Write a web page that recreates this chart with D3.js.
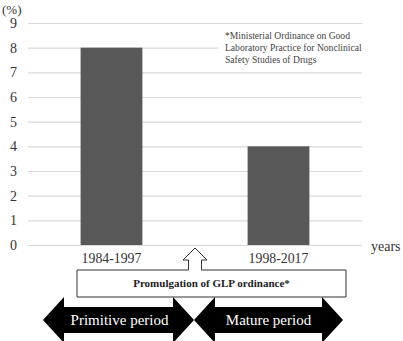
<!DOCTYPE html>
<html>
<head>
<meta charset="utf-8">
<script src="https://cdn.jsdelivr.net/npm/d3@7"></script>
<style>
  body { margin: 0; background: #fff; }
  text { font-family: "Liberation Serif", "Times New Roman", serif; }
</style>
</head>
<body>
<script>
const categories = ["1984-1997", "1998-2017"];
const values = [8, 4];
const yTicks = [0, 1, 2, 3, 4, 5, 6, 7, 8, 9];
const periods = ["Primitive period", "Mature period"];
const footnote = [
  "*Ministerial Ordinance on Good",
  "Laboratory Practice for Nonclinical",
  "Safety Studies of Drugs"
];

const width = 403, height = 341;
const svg = d3.select("body").append("svg")
  .attr("width", width)
  .attr("height", height);

const x = d3.scaleBand().domain(categories).range([28, 362])
  .paddingInner(0.63).paddingOuter(0.315);
const y = d3.scaleLinear().domain([0, 9]).range([245, 23]);

// gridlines + y labels
const yAxis = svg.append("g")
  .attr("transform", "translate(28,0)")
  .call(d3.axisLeft(y).tickValues(yTicks).tickSize(-334).tickPadding(11).tickFormat(d3.format("d")))
  .attr("font-family", "'Liberation Serif', serif")
  .attr("font-size", 14);
yAxis.select(".domain").remove();
yAxis.selectAll(".tick line").attr("stroke", "#d9d9d9").attr("stroke-width", 1.2);
yAxis.selectAll(".tick text").attr("fill", "#333");

svg.append("text")
  .attr("x", 2).attr("y", 14)
  .attr("fill", "#333")
  .attr("font-size", 13)
  .text("(%)");

// footnote box covering grid
svg.append("rect")
  .attr("x", 218).attr("y", 27).attr("width", 150).attr("height", 41)
  .attr("fill", "#fff");
svg.append("g").selectAll("text")
  .data(footnote)
  .join("text")
  .attr("x", 225)
  .attr("y", (d, i) => 39 + i * 12)
  .attr("fill", "#444")
  .attr("font-size", 9.6)
  .text(d => d);

// bars
svg.append("g").selectAll("rect")
  .data(values)
  .join("rect")
  .attr("x", (d, i) => x(categories[i]))
  .attr("y", d => y(d))
  .attr("width", x.bandwidth())
  .attr("height", d => y(0) - y(d))
  .attr("fill", "#595959");

// category labels
svg.append("g").selectAll("text")
  .data(categories)
  .join("text")
  .attr("x", d => x(d) + x.bandwidth() / 2)
  .attr("y", 263)
  .attr("text-anchor", "middle")
  .attr("fill", "#333")
  .attr("font-size", 13.8)
  .text(d => d);

svg.append("text")
  .attr("x", 371).attr("y", 251)
  .attr("fill", "#333")
  .attr("font-size", 14)
  .text("years");

// promulgation box with up arrow
const cx = (x(categories[0]) + x(categories[1]) + x.bandwidth()) / 2;
const bx0 = 77, bx1 = 346, by0 = 270, by1 = 297;
const outline = [
  [bx0, by0], [cx - 6.5, by0], [cx - 6.5, 260], [cx - 12, 260], [cx, 248],
  [cx + 12, 260], [cx + 6.5, 260], [cx + 6.5, by0], [bx1, by0], [bx1, by1], [bx0, by1]
];
svg.append("path")
  .attr("d", d3.line()(outline) + "Z")
  .attr("fill", "#fff")
  .attr("stroke", "#333")
  .attr("stroke-width", 1);
svg.append("text")
  .attr("x", (bx0 + bx1) / 2).attr("y", 287)
  .attr("text-anchor", "middle")
  .attr("fill", "#222")
  .attr("font-size", 11)
  .attr("font-weight", "bold")
  .text("Promulgation of GLP ordinance*");

// double arrows
const arrows = [[43, cx - 1], [cx - 1, 343]];
const cy = 320, hh = 23, sh = 13, hl = 21;
svg.append("g").selectAll("path")
  .data(arrows)
  .join("path")
  .attr("d", ([a, b]) => d3.line()([
    [a, cy], [a + hl, cy - hh], [a + hl, cy - sh], [b - hl, cy - sh], [b - hl, cy - hh],
    [b, cy], [b - hl, cy + hh], [b - hl, cy + sh], [a + hl, cy + sh], [a + hl, cy + hh]
  ]) + "Z")
  .attr("fill", "#000");
svg.append("g").selectAll("text")
  .data(periods)
  .join("text")
  .attr("x", (d, i) => (arrows[i][0] + arrows[i][1]) / 2 - (i === 0 ? -1 : 0))
  .attr("y", cy + 5)
  .attr("text-anchor", "middle")
  .attr("fill", "#fff")
  .attr("font-size", 15)
  .text(d => d);
</script>
</body>
</html>
